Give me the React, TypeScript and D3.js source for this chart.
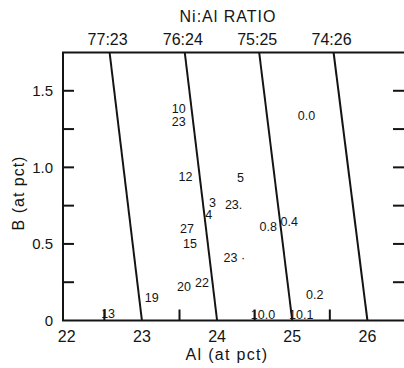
import React from "react";
import * as d3 from "d3";

// Ni:Al ratio lines: Al (at pct) where each line meets B = 0 and B = 1.75
const ratioLabels = ["77:23", "76:24", "75:25", "74:26"];
const ratioAlAtBottom = [23, 24, 25, 26];
const ratioAlAtTop = [22.57, 23.57, 24.56, 25.55];

// Values written at compositions (Al at pct, B at pct)
const pointText = ["10", "23", "0.0", "12", "5", "3", "4", "23.", "0.8", "0.4", "27", "15", "23 ·", "20", "22", "19", "13", "10.0", "10.1", "0.2"];
const pointAl = [23.49, 23.49, 25.19, 23.58, 24.31, 23.94, 23.89, 24.22, 24.68, 24.96, 23.6, 23.64, 24.23, 23.56, 23.8, 23.13, 22.55, 24.61, 25.12, 25.3];
const pointB = [1.381, 1.297, 1.335, 0.939, 0.934, 0.769, 0.693, 0.754, 0.61, 0.648, 0.599, 0.501, 0.409, 0.22, 0.248, 0.152, 0.044, 0.038, 0.041, 0.167];

const xTickValues = [22, 23, 24, 25, 26];
const xMinorTicks = [22.5, 23.5, 24.5, 25.5];
const yTickValues = [0, 0.5, 1.0, 1.5];
const yTickLabels = ["0", "0.5", "1.0", "1.5"];
const yAllTicks = [0.25, 0.5, 0.75, 1.0, 1.25, 1.5];

const W = 404;
const H = 368;
const FONT = "'Liberation Sans', Arial, sans-serif";
const INK = "#141414";

export default function App() {
  const x = d3.scaleLinear().domain([21.95, 26.5]).range([63, 405]);
  const y = d3.scaleLinear().domain([0, 1.75]).range([320.5, 52.5]);
  const [x0, x1] = x.range();
  const [yb, yt] = y.range();
  const line = d3.line<[number, number]>().x((d) => x(d[0])).y((d) => y(d[1]));

  return (
    <svg
      width={W}
      height={H}
      viewBox={`0 0 ${W} ${H}`}
      style={{ position: "absolute", left: 0, top: 0, background: "#fff" }}
    >
      <rect x={0} y={0} width={W} height={H} fill="#fff" />

      {/* frame */}
      <path
        d={`M${x1},${yt} L${x0},${yt} L${x0},${yb} L${x1},${yb}`}
        fill="none"
        stroke={INK}
        strokeWidth={2}
      />

      {/* y ticks, left and right */}
      {yAllTicks.map((v) => (
        <g key={v}>
          <line x1={x0} x2={x0 + 11} y1={y(v)} y2={y(v)} stroke={INK} strokeWidth={2} />
          <line x1={x1 - 12} x2={x1} y1={y(v)} y2={y(v)} stroke={INK} strokeWidth={2} />
        </g>
      ))}
      {yTickValues.map((v, i) => (
        <text
          key={v}
          x={53}
          y={y(v) + 5.5}
          textAnchor="end"
          fontFamily={FONT}
          fontSize={15}
          fill={INK}
        >
          {yTickLabels[i]}
        </text>
      ))}

      {/* x ticks */}
      {xMinorTicks.map((v) => (
        <line key={v} x1={x(v)} x2={x(v)} y1={yb} y2={yb - 11} stroke={INK} strokeWidth={2} />
      ))}
      {xTickValues.map((v) => (
        <text
          key={v}
          x={x(v)}
          y={341.5}
          textAnchor="middle"
          fontFamily={FONT}
          fontSize={16}
          fill={INK}
        >
          {v}
        </text>
      ))}

      {/* constant Ni:Al ratio lines */}
      {ratioLabels.map((r, i) => (
        <g key={r}>
          <path
            d={line([
              [ratioAlAtTop[i], 1.75],
              [ratioAlAtBottom[i], 0],
            ]) ?? ""}
            fill="none"
            stroke={INK}
            strokeWidth={2}
          />
          <text
            x={x(ratioAlAtTop[i]) - 2}
            y={45}
            textAnchor="middle"
            fontFamily={FONT}
            fontSize={16}
            fill={INK}
          >
            {r}
          </text>
        </g>
      ))}

      {/* composition values */}
      {pointText.map((t, i) => (
        <text
          key={i}
          x={x(pointAl[i])}
          y={y(pointB[i]) + 4.4}
          textAnchor="middle"
          fontFamily={FONT}
          fontSize={12.5}
          fill={INK}
        >
          {t}
        </text>
      ))}

      {/* titles */}
      <text
        x={228}
        y={21.5}
        textAnchor="middle"
        fontFamily={FONT}
        fontSize={16}
        letterSpacing={1}
        fill={INK}
      >
        Ni:Al RATIO
      </text>
      <text
        x={227}
        y={360}
        textAnchor="middle"
        fontFamily={FONT}
        fontSize={16}
        letterSpacing={1.3}
        fill={INK}
      >
        Al (at pct)
      </text>
      <text
        transform={`translate(24,193) rotate(-90)`}
        textAnchor="middle"
        fontFamily={FONT}
        fontSize={16}
        letterSpacing={1}
        fill={INK}
      >
        B (at pct)
      </text>
    </svg>
  );
}
